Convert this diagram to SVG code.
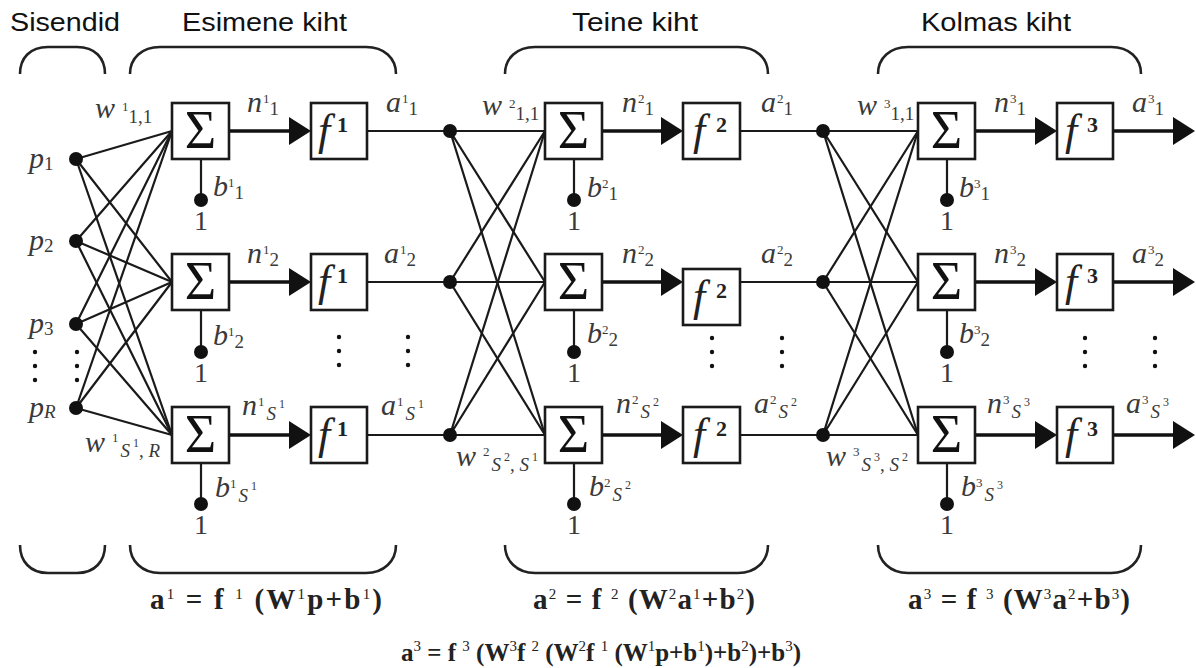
<svg xmlns="http://www.w3.org/2000/svg" width="1196" height="668" viewBox="0 0 1196 668">
<defs>
<style>
.hd{font-family:"Liberation Sans",Arial,sans-serif;font-size:26px;fill:#111}
.br{fill:none;stroke:#222;stroke-width:2.6}
.ln{fill:none;stroke:#1a1a1a;stroke-width:2.2}
.th{fill:none;stroke:#111;stroke-width:3.6}
.bx{fill:#fff;stroke:#1a1a1a;stroke-width:2.6}
.dt{fill:#111}
.sg{font-family:"Liberation Serif",serif;font-size:54px;fill:#111}
.fx{font-family:"Liberation Serif",serif;font-style:italic;font-size:44px;fill:#222}
.fs{font-family:"Liberation Serif",serif;font-style:normal;font-weight:bold;font-size:22px}
.m{font-family:"Liberation Serif",serif;font-style:italic;font-size:30px;fill:#3a3a3a}
.u{font-style:normal;font-size:13px}
.d{font-style:normal;font-size:19px}
.i{font-style:italic;font-size:19px}
.k{font-style:normal;font-size:12px}
.one{font-family:"Liberation Serif",serif;font-size:28px;fill:#3a3a3a;text-anchor:middle}
.eq{font-family:"Liberation Serif",serif;font-weight:bold;font-size:29px;fill:#222}
.eqf{font-family:"Liberation Serif",serif;font-weight:bold;font-size:25px;fill:#222}
.es{font-weight:normal;font-size:15px}
</style>
<marker id="ah" markerUnits="userSpaceOnUse" markerWidth="22" markerHeight="28" refX="12" refY="14" orient="auto">
<path d="M0,0 L22,14 L0,28 Z" fill="#111"/>
</marker>
</defs>
<rect width="1196" height="668" fill="#fff"/>

<g id="headings">
<text class="hd" x="10" y="31" textLength="110" lengthAdjust="spacingAndGlyphs">Sisendid</text>
<text class="hd" x="182" y="31" textLength="165" lengthAdjust="spacingAndGlyphs">Esimene kiht</text>
<text class="hd" x="572" y="31" textLength="126" lengthAdjust="spacingAndGlyphs">Teine kiht</text>
<text class="hd" x="921" y="31" textLength="150" lengthAdjust="spacingAndGlyphs">Kolmas kiht</text>
</g>

<g id="braces">
<path class="br" d="M20,74 C20,58 30,47 48,47 L77,47 C95,47 105,58 105,74"/>
<path class="br" d="M130,74 C130,58 142,47 160,47 L366,47 C384,47 396,58 396,74"/>
<path class="br" d="M505,74 C505,58 517,47 535,47 L738,47 C756,47 768,58 768,74"/>
<path class="br" d="M878,74 C878,58 890,47 908,47 L1111,47 C1129,47 1141,58 1141,74"/>
<path class="br" d="M20,545 C20,561 30,573 48,573 L77,573 C95,573 105,561 105,545"/>
<path class="br" d="M130,545 C130,561 142,573 160,573 L366,573 C384,573 396,561 396,545"/>
<path class="br" d="M505,545 C505,561 517,573 535,573 L738,573 C756,573 768,561 768,545"/>
<path class="br" d="M878,545 C878,561 890,573 908,573 L1111,573 C1129,573 1141,561 1141,545"/>
</g>

<g id="connectors">
<path class="ln" d="M76,159 L172,131 M76,159 L172,282 M76,159 L172,435"/>
<path class="ln" d="M76,241 L172,131 M76,241 L172,282 M76,241 L172,435"/>
<path class="ln" d="M76,324 L172,131 M76,324 L172,282 M76,324 L172,435"/>
<path class="ln" d="M76,408 L172,131 M76,408 L172,282 M76,408 L172,435"/>
<path class="th" d="M229,131 L301,131" marker-end="url(#ah)"/>
<path class="th" d="M229,282 L301,282" marker-end="url(#ah)"/>
<path class="th" d="M229,435 L301,435" marker-end="url(#ah)"/>
<path class="ln" d="M367,131 L450,131 M367,282 L450,282 M367,435 L450,435"/>
<path class="ln" d="M450,131 L545,131 M450,131 L545,282 M450,131 L545,435"/>
<path class="ln" d="M450,282 L545,131 M450,282 L545,282 M450,282 L545,435"/>
<path class="ln" d="M450,435 L545,131 M450,435 L545,282 M450,435 L545,435"/>
<path class="th" d="M602,131 L673,131" marker-end="url(#ah)"/>
<path class="th" d="M602,282 L673,282" marker-end="url(#ah)"/>
<path class="th" d="M602,435 L673,435" marker-end="url(#ah)"/>
<path class="ln" d="M740,131 L823,131 M740,282 L823,282 M740,435 L823,435"/>
<path class="ln" d="M823,131 L918,131 M823,131 L918,282 M823,131 L918,435"/>
<path class="ln" d="M823,282 L918,131 M823,282 L918,282 M823,282 L918,435"/>
<path class="ln" d="M823,435 L918,131 M823,435 L918,282 M823,435 L918,435"/>
<path class="th" d="M975,131 L1047,131" marker-end="url(#ah)"/>
<path class="th" d="M975,282 L1047,282" marker-end="url(#ah)"/>
<path class="th" d="M975,435 L1047,435" marker-end="url(#ah)"/>
<path class="th" d="M1113,131 L1185,131" marker-end="url(#ah)"/>
<path class="th" d="M1113,282 L1185,282" marker-end="url(#ah)"/>
<path class="th" d="M1113,435 L1185,435" marker-end="url(#ah)"/>
<path class="ln" d="M201,159 L201,200 M201,310 L201,352 M201,463 L201,504"/>
<path class="ln" d="M574,159 L574,200 M574,310 L574,352 M574,463 L574,504"/>
<path class="ln" d="M947,159 L947,200 M947,310 L947,352 M947,463 L947,504"/>
</g>

<g id="inputs">
<circle class="dt" cx="76" cy="159" r="7"/>
<circle class="dt" cx="76" cy="241" r="7"/>
<circle class="dt" cx="76" cy="324" r="7"/>
<circle class="dt" cx="76" cy="408" r="7"/>
<text class="m" x="29" y="168">p<tspan class="d" font-size="19" dy="2">1</tspan></text>
<text class="m" x="29" y="250">p<tspan class="d" font-size="19" dy="2">2</tspan></text>
<text class="m" x="29" y="333">p<tspan class="d" font-size="19" dy="2">3</tspan></text>
<text class="m" x="29" y="417">p<tspan class="i" font-size="15" dy="1">R</tspan></text>
<g class="dt">
<circle cx="35" cy="352" r="2.2"/><circle cx="35" cy="366" r="2.2"/><circle cx="35" cy="380" r="2.2"/>
<circle cx="77" cy="352" r="2.2"/><circle cx="77" cy="366" r="2.2"/><circle cx="77" cy="380" r="2.2"/>
</g>
</g>

<g id="layer1">
<g id="sum1-1"><rect class="bx" x="172" y="103" width="57" height="56"/><text class="sg" x="200.5" y="148" text-anchor="middle">Σ</text></g>
<g id="sum1-2"><rect class="bx" x="172" y="254" width="57" height="56"/><text class="sg" x="200.5" y="299" text-anchor="middle">Σ</text></g>
<g id="sum1-3"><rect class="bx" x="172" y="407" width="57" height="56"/><text class="sg" x="200.5" y="452" text-anchor="middle">Σ</text></g>
<g id="f1-1"><rect class="bx" x="311" y="103" width="56" height="56"/><text class="fx" x="318" y="145">f<tspan class="fs" x="337" y="132">1</tspan></text></g>
<g id="f1-2"><rect class="bx" x="311" y="254" width="56" height="56"/><text class="fx" x="318" y="296">f<tspan class="fs" x="337" y="283">1</tspan></text></g>
<g id="f1-3"><rect class="bx" x="311" y="407" width="56" height="56"/><text class="fx" x="318" y="449">f<tspan class="fs" x="337" y="436">1</tspan></text></g>
<g id="bias1">
<circle class="dt" cx="201" cy="200" r="7"/><circle class="dt" cx="201" cy="352" r="7"/><circle class="dt" cx="201" cy="504" r="7"/>
<text class="one" x="201" y="230">1</text><text class="one" x="201" y="382">1</text><text class="one" x="201" y="534">1</text>
<text class="m" x="213" y="196">b<tspan class="u" dy="-9">1</tspan><tspan class="d" dy="12">1</tspan></text>
<text class="m" x="213" y="345">b<tspan class="u" dy="-9">1</tspan><tspan class="d" dy="12">2</tspan></text>
<text class="m" x="215" y="497">b<tspan class="u" dy="-9">1</tspan><tspan class="i" dx="2" dy="14">S</tspan><tspan class="k" dx="3" dy="-12">1</tspan></text>
</g>
<text class="m" x="95" y="118">w<tspan class="u" dx="7" dy="-7">1</tspan><tspan class="d" font-size="17" dy="12">1,1</tspan></text>
<text class="m" x="85" y="452">w<tspan class="u" dx="7" dy="-10">1</tspan><tspan class="i" dx="2" dy="15">S</tspan><tspan class="k" dx="3" dy="-10">1</tspan><tspan class="d" dy="10">, </tspan><tspan class="i" font-size="15">R</tspan></text>
<text class="m" x="247" y="112">n<tspan class="u" dx="1" dy="-9">1</tspan><tspan class="d" dy="12">1</tspan></text>
<text class="m" x="247" y="263">n<tspan class="u" dx="1" dy="-9">1</tspan><tspan class="d" dy="12">2</tspan></text>
<text class="m" x="242" y="415">n<tspan class="u" dx="1" dy="-9">1</tspan><tspan class="i" dx="2" dy="14">S</tspan><tspan class="k" dx="3" dy="-12">1</tspan></text>
<text class="m" x="386" y="112">a<tspan class="u" dx="1" dy="-9">1</tspan><tspan class="d" dy="12">1</tspan></text>
<text class="m" x="384" y="263">a<tspan class="u" dx="1" dy="-9">1</tspan><tspan class="d" dy="12">2</tspan></text>
<text class="m" x="381" y="415">a<tspan class="u" dx="1" dy="-9">1</tspan><tspan class="i" dx="2" dy="14">S</tspan><tspan class="k" dx="3" dy="-12">1</tspan></text>
<g class="dt">
<circle cx="339" cy="337" r="2.2"/><circle cx="339" cy="351" r="2.2"/><circle cx="339" cy="365" r="2.2"/>
<circle cx="408" cy="337" r="2.2"/><circle cx="408" cy="351" r="2.2"/><circle cx="408" cy="365" r="2.2"/>
</g>
</g>

<g id="junctions1">
<circle class="dt" cx="450" cy="131" r="7"/><circle class="dt" cx="450" cy="282" r="7"/><circle class="dt" cx="450" cy="435" r="7"/>
</g>

<g id="layer2">
<g id="sum2-1"><rect class="bx" x="545" y="103" width="57" height="56"/><text class="sg" x="573.5" y="148" text-anchor="middle">Σ</text></g>
<g id="sum2-2"><rect class="bx" x="545" y="254" width="57" height="56"/><text class="sg" x="573.5" y="299" text-anchor="middle">Σ</text></g>
<g id="sum2-3"><rect class="bx" x="545" y="407" width="57" height="56"/><text class="sg" x="573.5" y="452" text-anchor="middle">Σ</text></g>
<g id="f2-1"><rect class="bx" x="683" y="103" width="57" height="56"/><text class="fx" x="693" y="145">f<tspan class="fs" x="716" y="132">2</tspan></text></g>
<g id="f2-2"><rect class="bx" x="683" y="269" width="57" height="56"/><text class="fx" x="693" y="311">f<tspan class="fs" x="716" y="298">2</tspan></text></g>
<g id="f2-3"><rect class="bx" x="683" y="407" width="57" height="56"/><text class="fx" x="693" y="449">f<tspan class="fs" x="716" y="436">2</tspan></text></g>
<g id="bias2">
<circle class="dt" cx="574" cy="200" r="7"/><circle class="dt" cx="574" cy="352" r="7"/><circle class="dt" cx="574" cy="504" r="7"/>
<text class="one" x="574" y="230">1</text><text class="one" x="574" y="382">1</text><text class="one" x="574" y="534">1</text>
<text class="m" x="587" y="197">b<tspan class="u" dy="-9">2</tspan><tspan class="d" dy="12">1</tspan></text>
<text class="m" x="587" y="343">b<tspan class="u" dy="-9">2</tspan><tspan class="d" dy="12">2</tspan></text>
<text class="m" x="589" y="496">b<tspan class="u" dy="-9">2</tspan><tspan class="i" dx="2" dy="14">S</tspan><tspan class="k" dx="3" dy="-12">2</tspan></text>
</g>
<text class="m" x="482" y="115">w<tspan class="u" dx="7" dy="-7">2</tspan><tspan class="d" font-size="17" dy="12">1,1</tspan></text>
<text class="m" x="456" y="466">w<tspan class="u" dx="7" dy="-10">2</tspan><tspan class="i" dx="2" dy="15">S</tspan><tspan class="k" dx="3" dy="-10">2</tspan><tspan class="d" dy="10">, </tspan><tspan class="i">S</tspan><tspan class="k" dx="3" dy="-10">1</tspan></text>
<text class="m" x="622" y="112">n<tspan class="u" dx="1" dy="-9">2</tspan><tspan class="d" dy="12">1</tspan></text>
<text class="m" x="622" y="263">n<tspan class="u" dx="1" dy="-9">2</tspan><tspan class="d" dy="12">2</tspan></text>
<text class="m" x="616" y="413">n<tspan class="u" dx="1" dy="-9">2</tspan><tspan class="i" dx="2" dy="14">S</tspan><tspan class="k" dx="3" dy="-12">2</tspan></text>
<text class="m" x="761" y="112">a<tspan class="u" dx="1" dy="-9">2</tspan><tspan class="d" dy="12">1</tspan></text>
<text class="m" x="761" y="263">a<tspan class="u" dx="1" dy="-9">2</tspan><tspan class="d" dy="12">2</tspan></text>
<text class="m" x="754" y="413">a<tspan class="u" dx="1" dy="-9">2</tspan><tspan class="i" dx="2" dy="14">S</tspan><tspan class="k" dx="3" dy="-12">2</tspan></text>
<g class="dt">
<circle cx="712" cy="338" r="2.2"/><circle cx="712" cy="352" r="2.2"/><circle cx="712" cy="366" r="2.2"/>
<circle cx="782" cy="338" r="2.2"/><circle cx="782" cy="352" r="2.2"/><circle cx="782" cy="366" r="2.2"/>
</g>
</g>

<g id="junctions2">
<circle class="dt" cx="823" cy="131" r="7"/><circle class="dt" cx="823" cy="282" r="7"/><circle class="dt" cx="823" cy="435" r="7"/>
</g>

<g id="layer3">
<g id="sum3-1"><rect class="bx" x="918" y="103" width="57" height="56"/><text class="sg" x="946.5" y="148" text-anchor="middle">Σ</text></g>
<g id="sum3-2"><rect class="bx" x="918" y="254" width="57" height="56"/><text class="sg" x="946.5" y="299" text-anchor="middle">Σ</text></g>
<g id="sum3-3"><rect class="bx" x="918" y="407" width="57" height="56"/><text class="sg" x="946.5" y="452" text-anchor="middle">Σ</text></g>
<g id="f3-1"><rect class="bx" x="1057" y="103" width="56" height="56"/><text class="fx" x="1065" y="145">f<tspan class="fs" x="1087" y="132">3</tspan></text></g>
<g id="f3-2"><rect class="bx" x="1057" y="254" width="56" height="56"/><text class="fx" x="1065" y="296">f<tspan class="fs" x="1087" y="283">3</tspan></text></g>
<g id="f3-3"><rect class="bx" x="1057" y="407" width="56" height="56"/><text class="fx" x="1065" y="449">f<tspan class="fs" x="1087" y="436">3</tspan></text></g>
<g id="bias3">
<circle class="dt" cx="947" cy="200" r="7"/><circle class="dt" cx="947" cy="352" r="7"/><circle class="dt" cx="947" cy="504" r="7"/>
<text class="one" x="947" y="230">1</text><text class="one" x="947" y="382">1</text><text class="one" x="947" y="534">1</text>
<text class="m" x="959" y="197">b<tspan class="u" dy="-9">3</tspan><tspan class="d" dy="12">1</tspan></text>
<text class="m" x="959" y="343">b<tspan class="u" dy="-9">3</tspan><tspan class="d" dy="12">2</tspan></text>
<text class="m" x="961" y="496">b<tspan class="u" dy="-9">3</tspan><tspan class="i" dx="2" dy="14">S</tspan><tspan class="k" dx="3" dy="-12">3</tspan></text>
</g>
<text class="m" x="857" y="115">w<tspan class="u" dx="7" dy="-7">3</tspan><tspan class="d" font-size="17" dy="12">1,1</tspan></text>
<text class="m" x="826" y="466">w<tspan class="u" dx="7" dy="-10">3</tspan><tspan class="i" dx="2" dy="15">S</tspan><tspan class="k" dx="3" dy="-10">3</tspan><tspan class="d" dy="10">, </tspan><tspan class="i">S</tspan><tspan class="k" dx="3" dy="-10">2</tspan></text>
<text class="m" x="994" y="112">n<tspan class="u" dx="1" dy="-9">3</tspan><tspan class="d" dy="12">1</tspan></text>
<text class="m" x="994" y="263">n<tspan class="u" dx="1" dy="-9">3</tspan><tspan class="d" dy="12">2</tspan></text>
<text class="m" x="987" y="413">n<tspan class="u" dx="1" dy="-9">3</tspan><tspan class="i" dx="2" dy="14">S</tspan><tspan class="k" dx="3" dy="-12">3</tspan></text>
<text class="m" x="1132" y="112">a<tspan class="u" dx="1" dy="-9">3</tspan><tspan class="d" dy="12">1</tspan></text>
<text class="m" x="1132" y="263">a<tspan class="u" dx="1" dy="-9">3</tspan><tspan class="d" dy="12">2</tspan></text>
<text class="m" x="1126" y="413">a<tspan class="u" dx="1" dy="-9">3</tspan><tspan class="i" dx="2" dy="14">S</tspan><tspan class="k" dx="3" dy="-12">3</tspan></text>
<g class="dt">
<circle cx="1085" cy="338" r="2.2"/><circle cx="1085" cy="352" r="2.2"/><circle cx="1085" cy="366" r="2.2"/>
<circle cx="1155" cy="338" r="2.2"/><circle cx="1155" cy="352" r="2.2"/><circle cx="1155" cy="366" r="2.2"/>
</g>
</g>

<g id="equations">
<text class="eq" x="150" y="609" textLength="232" lengthAdjust="spacing">a<tspan class="es" dy="-10">1</tspan><tspan dy="10"> = f </tspan><tspan class="es" dy="-10">1</tspan><tspan dy="10"> (W</tspan><tspan class="es" dy="-10">1</tspan><tspan dy="10">p+b</tspan><tspan class="es" dy="-10">1</tspan><tspan dy="10">)</tspan></text>
<text class="eq" x="533" y="609" textLength="222" lengthAdjust="spacing">a<tspan class="es" dy="-10">2</tspan><tspan dy="10"> = f </tspan><tspan class="es" dy="-10">2</tspan><tspan dy="10"> (W</tspan><tspan class="es" dy="-10">2</tspan><tspan dy="10">a</tspan><tspan class="es" dy="-10">1</tspan><tspan dy="10">+b</tspan><tspan class="es" dy="-10">2</tspan><tspan dy="10">)</tspan></text>
<text class="eq" x="908" y="609" textLength="222" lengthAdjust="spacing">a<tspan class="es" dy="-10">3</tspan><tspan dy="10"> = f </tspan><tspan class="es" dy="-10">3</tspan><tspan dy="10"> (W</tspan><tspan class="es" dy="-10">3</tspan><tspan dy="10">a</tspan><tspan class="es" dy="-10">2</tspan><tspan dy="10">+b</tspan><tspan class="es" dy="-10">3</tspan><tspan dy="10">)</tspan></text>
<text class="eqf" x="401" y="661">a<tspan class="es" dy="-10">3</tspan><tspan dy="10"> = f </tspan><tspan class="es" dy="-10">3</tspan><tspan dy="10"> (W</tspan><tspan class="es" dy="-10">3</tspan><tspan dy="10">f </tspan><tspan class="es" dy="-10">2</tspan><tspan dy="10"> (W</tspan><tspan class="es" dy="-10">2</tspan><tspan dy="10">f </tspan><tspan class="es" dy="-10">1</tspan><tspan dy="10"> (W</tspan><tspan class="es" dy="-10">1</tspan><tspan dy="10">p+b</tspan><tspan class="es" dy="-10">1</tspan><tspan dy="10">)+b</tspan><tspan class="es" dy="-10">2</tspan><tspan dy="10">)+b</tspan><tspan class="es" dy="-10">3</tspan><tspan dy="10">)</tspan></text>
</g>
</svg>
